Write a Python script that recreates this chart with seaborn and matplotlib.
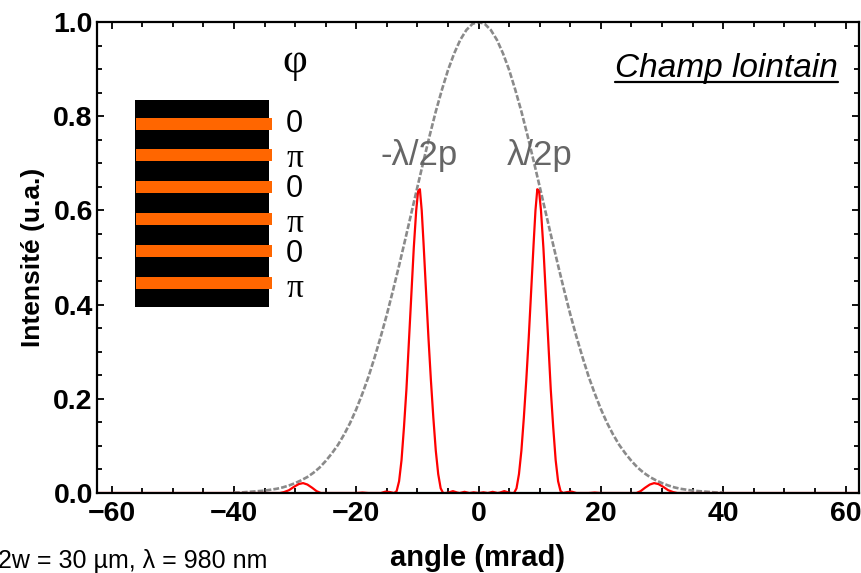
import pandas as pd
import seaborn as sns
import matplotlib.pyplot as plt
from matplotlib.ticker import MultipleLocator

# gaussian envelope (grey dashed)
env_x = list(range(-40, 41))
env_y = [0.001, 0.001, 0.002, 0.003, 0.004, 0.005, 0.007, 0.009, 0.012, 0.016,
         0.021, 0.027, 0.034, 0.043, 0.054, 0.068, 0.084, 0.102, 0.124, 0.149,
         0.178, 0.211, 0.247, 0.288, 0.332, 0.379, 0.430, 0.483, 0.538, 0.594,
         0.650, 0.705, 0.759, 0.810, 0.856, 0.898, 0.933, 0.962, 0.983, 0.996,
         1.000,
         0.996, 0.983, 0.962, 0.933, 0.898, 0.856, 0.810, 0.759, 0.705, 0.650,
         0.594, 0.538, 0.483, 0.430, 0.379, 0.332, 0.288, 0.247, 0.211, 0.178,
         0.149, 0.124, 0.102, 0.084, 0.068, 0.054, 0.043, 0.034, 0.027, 0.021,
         0.016, 0.012, 0.009, 0.007, 0.005, 0.004, 0.003, 0.002, 0.001, 0.001]

# far field of the 0/pi array (red)
red_x = [-62.5, -32.5, -31.8, -31.0, -30.2, -29.4, -28.7, -28.0, -27.2, -26.5,
         -25.8, -20.0, -19.0, -18.0, -16.0, -15.2, -14.5, -13.8, -13.4, -13.0,
         -12.6, -12.2, -11.8, -11.4, -11.0, -10.6, -10.2, -9.9, -9.6, -9.3,
         -9.0, -8.6, -8.2, -7.8, -7.4, -7.0, -6.6, -6.2, -5.8, -5.4,
         -4.9, -4.2, -3.5, -3.1, -2.3, -1.5, -0.8, 0.0,
         0.8, 1.5, 2.3, 3.1, 3.5, 4.2, 4.9, 5.4, 5.8, 6.2,
         6.6, 7.0, 7.4, 7.8, 8.2, 8.6, 9.0, 9.3, 9.6, 9.9,
         10.2, 10.6, 11.0, 11.4, 11.8, 12.2, 12.6, 13.0, 13.4, 13.8,
         14.5, 15.2, 16.0, 18.0, 19.0, 20.0, 25.8, 26.5, 27.2, 28.0,
         28.7, 29.4, 30.2, 31.0, 31.8, 32.5, 62.5]
red_y = [0.0, 0.0, 0.002, 0.006, 0.013, 0.019, 0.021, 0.018, 0.011, 0.004,
         0.0, 0.0, 0.001, 0.0, 0.0, 0.003, 0.002, 0.0, 0.004, 0.025,
         0.070, 0.140, 0.220, 0.320, 0.420, 0.520, 0.600, 0.640, 0.645, 0.600,
         0.530, 0.430, 0.330, 0.240, 0.160, 0.090, 0.040, 0.010, 0.0, 0.0,
         0.001, 0.004, 0.001, 0.0, 0.0025, 0.0, 0.0015, 0.0,
         0.0015, 0.0, 0.0025, 0.0, 0.001, 0.004, 0.001, 0.0, 0.0, 0.010,
         0.040, 0.090, 0.160, 0.240, 0.330, 0.430, 0.530, 0.600, 0.645, 0.640,
         0.600, 0.520, 0.420, 0.320, 0.220, 0.140, 0.070, 0.025, 0.004, 0.0,
         0.002, 0.003, 0.0, 0.0, 0.001, 0.0, 0.0, 0.004, 0.011, 0.018,
         0.021, 0.019, 0.013, 0.006, 0.002, 0.0, 0.0]

# phase mask sketch
block_left, block_right = -56.2, -34.2
block_bottom, block_top = 0.394, 0.834
stripe_y = [0.783, 0.718, 0.650, 0.582, 0.514, 0.446]
stripe_h = 0.0248
phase_labels = ['0', 'π', '0', 'π', '0', 'π']
phase_label_y = [0.767, 0.693, 0.629, 0.555, 0.490, 0.417]

sns.set_style('ticks')
plt.rcParams['font.family'] = ['Liberation Sans', 'DejaVu Sans']
plt.rcParams['text.color'] = 'black'
plt.rcParams['axes.labelcolor'] = 'black'
plt.rcParams['xtick.color'] = 'black'
plt.rcParams['ytick.color'] = 'black'

env = pd.DataFrame({'angle': env_x, 'intensity': env_y})
red = pd.DataFrame({'angle': red_x, 'intensity': red_y})

fig, ax = plt.subplots(figsize=(8.62, 5.73), dpi=100)
fig.subplots_adjust(left=0.1125, right=0.9965, bottom=0.1396, top=0.9616)

# mask drawing
ax.bar((block_left + block_right) / 2, block_top - block_bottom,
       bottom=block_bottom, width=block_right - block_left,
       color='black', linewidth=0, zorder=1)
ax.barh(stripe_y, block_right - block_left + 0.4, height=stripe_h,
        left=block_left + 0.1, color='#ff6600', linewidth=0, zorder=1.5)
for lab, yy in zip(phase_labels, phase_label_y):
    if lab == 'π':
        ax.text(-30.1, yy, lab, ha='center', va='baseline', fontsize=24,
                family='Liberation Serif')
    else:
        ax.text(-30.1, yy, lab, ha='center', va='baseline', fontsize=22)
ax.text(-30.1, 0.893, 'φ', ha='center', va='baseline', fontsize=31,
        family='Liberation Serif')

sns.lineplot(data=env, x='angle', y='intensity', ax=ax, estimator=None,
             color='#8a8a8a', lw=1.9, linestyle=(0, (2.2, 0.8)), zorder=2)
sns.lineplot(data=red, x='angle', y='intensity', ax=ax, estimator=None,
             color='#ff0000', lw=1.6, zorder=2.2)

ax.text(-9.8, 0.697, '-λ/2p', ha='center', va='baseline', fontsize=25,
        color='#666666')
ax.text(10.0, 0.697, 'λ/2p', ha='center', va='baseline', fontsize=25,
        color='#666666')

champ = ax.text(58.8, 0.883, 'Champ lointain', ha='right', va='baseline',
                fontsize=24, style='italic')

ax.set_xlim(-62.4, 62.2)
ax.set_ylim(0, 1.0)
ax.xaxis.set_major_locator(MultipleLocator(20))
ax.xaxis.set_minor_locator(MultipleLocator(5))
ax.yaxis.set_major_locator(MultipleLocator(0.2))
ax.yaxis.set_minor_locator(MultipleLocator(0.05))
ax.yaxis.set_major_formatter(plt.FormatStrFormatter('%.1f'))
ax.tick_params(which='both', direction='in', top=True, right=True,
               width=1.3, color='black')
ax.tick_params(which='major', length=5)
ax.tick_params(which='minor', length=3.5)
ax.tick_params(axis='x', which='major', pad=6)
ax.tick_params(axis='y', which='major', pad=3)
for lab in ax.get_xticklabels() + ax.get_yticklabels():
    lab.set_fontsize(20.5)
    lab.set_fontweight('bold')
for sp in ax.spines.values():
    sp.set_linewidth(1.6)
    sp.set_color('black')

ax.set_xlabel('angle (mrad)', fontsize=21, fontweight='bold', labelpad=12)
ax.set_ylabel('Intensité (u.a.)', fontsize=19, fontweight='bold', labelpad=6)

fig.text(-0.002, 0.009, '2w = 30 µm, λ = 980 nm', fontsize=18, ha='left',
         va='baseline')

# underline under "Champ lointain"
fig.canvas.draw()
bb = champ.get_window_extent().transformed(ax.transData.inverted())
ax.plot([bb.x0, bb.x1], [0.873, 0.873], color='black', lw=1.6)

fig.savefig('out.png', dpi=100)
